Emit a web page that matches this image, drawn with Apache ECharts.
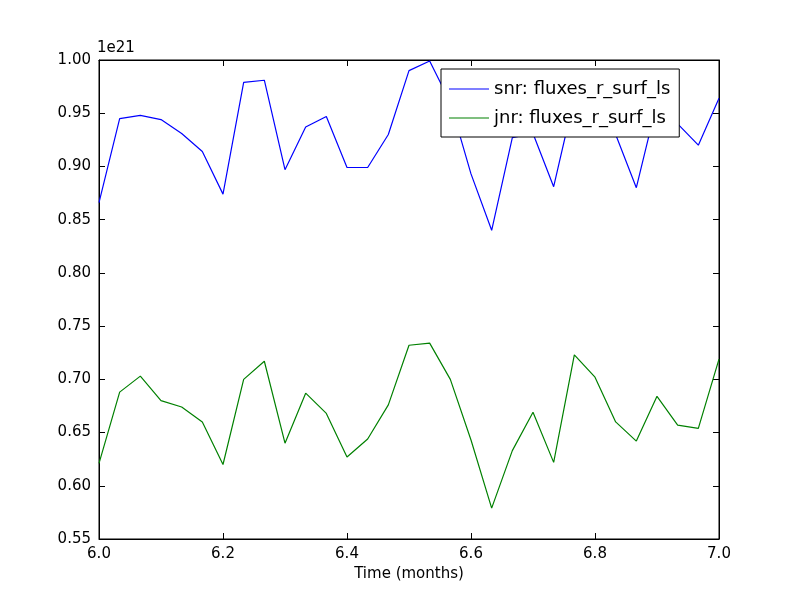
<!DOCTYPE html>
<html><head><meta charset="utf-8">
<script src="https://cdn.jsdelivr.net/npm/echarts@6/dist/echarts.min.js"></script>
<style>html,body{margin:0;padding:0;background:#fff}#c{width:800px;height:600px}</style>
</head><body><div id="c"></div>
<script>
var times = [];
for (var i = 0; i <= 30; i++) times.push(6 + i / 30);
var snr = [0.866,0.945,0.948,0.944,0.931,0.914,0.874,0.979,0.981,0.897,0.937,0.947,0.899,0.899,0.930,0.990,0.999,0.960,0.893,0.840,0.927,0.931,0.881,0.965,0.955,0.930,0.880,0.960,0.940,0.920,0.964];
var jnr = [0.621,0.688,0.703,0.680,0.674,0.660,0.620,0.700,0.717,0.640,0.687,0.668,0.627,0.644,0.676,0.732,0.734,0.700,0.643,0.579,0.633,0.669,0.622,0.723,0.702,0.660,0.642,0.684,0.657,0.654,0.719];
var seriesNames = ['snr: fluxes_r_surf_ls','jnr: fluxes_r_surf_ls'];
var F = 'DejaVu Sans';
function pairs(v){return v.map(function(y,i){return [times[i],y];});}
var chart = echarts.init(document.getElementById('c'));
var tickIn = {show:true,inside:true,length:6,lineStyle:{color:'#000'}};
chart.setOption({
  animation:false,
  textStyle:{fontFamily:F},
  grid:{left:99,right:81,top:60,bottom:61,show:true,borderColor:'#000',borderWidth:1},
  legend:{data:seriesNames,orient:'vertical',left:441,top:69,itemWidth:40,itemHeight:1,itemGap:11,
    padding:[11,9,10,8],borderColor:'#000',borderWidth:1,backgroundColor:'#fff',
    textStyle:{fontSize:18,fontFamily:F,color:'#000'},icon:'rect'},
  xAxis:[{type:'value',min:6,max:7,interval:0.2,name:'Time (months)',nameLocation:'middle',nameGap:26,
    nameTextStyle:{fontSize:15,color:'#000'},
    axisLine:{show:true,lineStyle:{color:'#000'}},axisTick:tickIn,splitLine:{show:false},
    axisLabel:{fontSize:15,color:'#000',margin:8,formatter:function(v){return v.toFixed(1);}}},
    {type:'value',position:'top',min:6,max:7,interval:0.2,axisLine:{show:true,lineStyle:{color:'#000'}},axisTick:tickIn,axisLabel:{show:false},splitLine:{show:false}}],
  yAxis:[{type:'value',min:0.55,max:1.0,interval:0.05,
    name:'1e21',nameLocation:'end',nameGap:4,nameTextStyle:{fontSize:15,color:'#000',align:'left',padding:[0,0,0,-2]},
    axisLine:{show:true,lineStyle:{color:'#000'}},axisTick:tickIn,splitLine:{show:false},
    axisLabel:{fontSize:15,color:'#000',margin:8,formatter:function(v){return v.toFixed(2);}}},
    {type:'value',position:'right',min:0.55,max:1.0,interval:0.05,axisLine:{show:true,lineStyle:{color:'#000'}},axisTick:tickIn,axisLabel:{show:false},splitLine:{show:false}}],
  series:[
    {name:seriesNames[0],type:'line',data:pairs(snr),showSymbol:false,symbol:'none',lineStyle:{color:'#0000ff',width:1.2},itemStyle:{color:'#0000ff'},z:2},
    {name:seriesNames[1],type:'line',data:pairs(jnr),showSymbol:false,symbol:'none',lineStyle:{color:'#008000',width:1.2},itemStyle:{color:'#008000'},z:2}
  ]
});
</script></body></html>
